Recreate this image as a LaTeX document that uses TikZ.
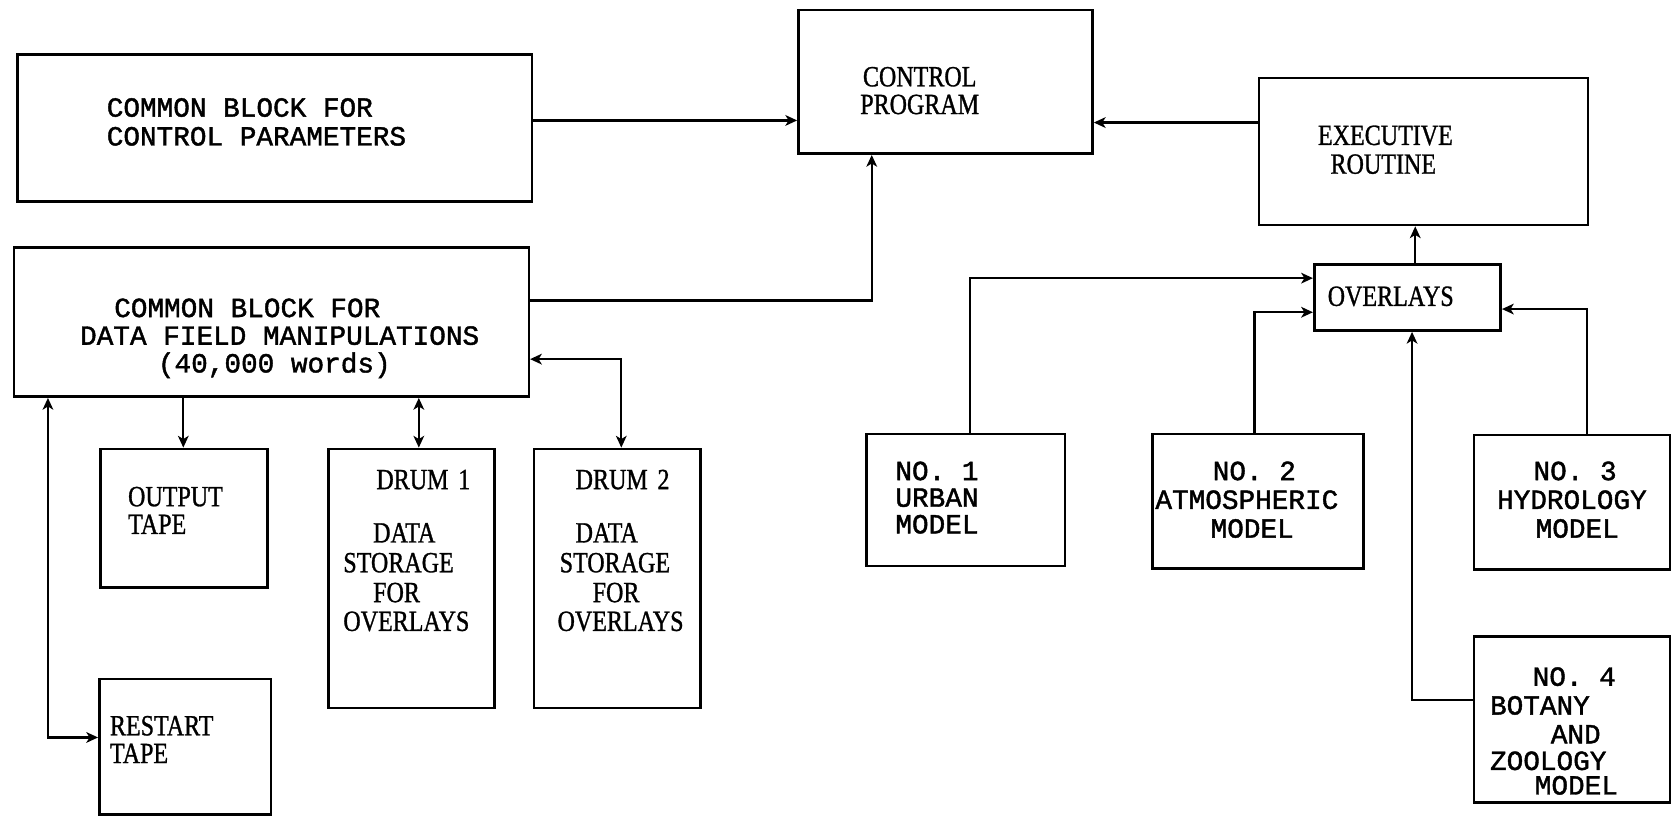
\documentclass[tikz,border=0pt]{standalone}
\usepackage{fontspec}
\setmainfont{Liberation Serif}[FakeStretch=0.82,FakeBold=1]
\newfontfamily\tw{Liberation Mono}[FakeBold=1.5]
\usetikzlibrary{arrows.meta}
\begin{document}
\begin{tikzpicture}[x=1pt,y=1pt,
  box/.style={draw, line width=2.4pt, inner sep=0pt, anchor=north west},
  tm/.style={font=\tw\fontsize{26}{27}\selectfont, inner sep=0pt, text height=15pt, text depth=0pt},
  ts/.style={font=\fontsize{27.5}{28}\selectfont, inner sep=0pt, text height=18pt, text depth=0pt},
  arr/.style={line width=2.2pt, -{Stealth[length=11pt,width=10pt,inset=3pt]}},
  arrb/.style={line width=2.2pt, {Stealth[length=11pt,width=10pt,inset=3pt]}-{Stealth[length=11pt,width=10pt,inset=3pt]}},
  ln/.style={line width=2.2pt}]
\useasboundingbox (0,0) rectangle (1568,-766);
% boxes
\node[box, minimum width=483pt, minimum height=138pt] (cbcp) at (15,-50) {};
\node[box, minimum width=483pt, minimum height=140pt] (cbdf) at (12,-231) {};
\node[box, minimum width=276pt, minimum height=135pt] (cp) at (748,-8) {};
\node[box, minimum width=309pt, minimum height=138pt] (er) at (1180,-72) {};
\node[box, minimum width=175pt, minimum height=62pt] (ov) at (1232,-247) {};
\node[box, minimum width=157pt, minimum height=130pt] (ot) at (93,-420) {};
\node[box, minimum width=156pt, minimum height=243pt] (d1) at (307,-420) {};
\node[box, minimum width=156pt, minimum height=243pt] (d2) at (500,-420) {};
\node[box, minimum width=161pt, minimum height=127pt] (rt) at (92,-636) {};
\node[box, minimum width=186pt, minimum height=124pt] (m1) at (812,-406) {};
\node[box, minimum width=198pt, minimum height=126pt] (m2) at (1080,-406) {};
\node[box, minimum width=184pt, minimum height=126pt] (m3) at (1382,-407) {};
\node[box, minimum width=184pt, minimum height=156pt] (m4) at (1382,-596) {};
% texts
\node[tm, anchor=west] (t1) at (100,-102) {COMMON BLOCK FOR};
\node[tm, anchor=west] (t2) at (100,-129) {CONTROL PARAMETERS};
\node[tm, anchor=west] (t3) at (107,-290) {COMMON BLOCK FOR};
\node[tm, anchor=west] (t4) at (75,-316) {DATA FIELD MANIPULATIONS};
\node[tm, anchor=west] (t5) at (148,-342) {(40,000 words)};
\node[ts] (t6) at (863,-72) {CONTROL};
\node[ts] (t7) at (863,-98) {PROGRAM};
\node[ts] (t8) at (1300,-127) {EXECUTIVE};
\node[ts] (t9) at (1298,-154) {ROUTINE};
\node[ts] (t10) at (1305,-278) {OVERLAYS};
\node[ts, anchor=west] (t11) at (120,-466) {OUTPUT};
\node[ts, anchor=west] (t12) at (120,-492) {TAPE};
\node[ts, anchor=west] (t13) at (353,-450) {DRUM\,\,1};
\node[ts, anchor=west] (t14) at (350,-500) {DATA};
\node[ts, anchor=west] (t15) at (322,-528) {STORAGE};
\node[ts, anchor=west] (t16) at (350,-556) {FOR};
\node[ts, anchor=west] (t17) at (322,-583) {OVERLAYS};
\node[ts, anchor=west] (t18) at (540,-450) {DRUM\,\,2};
\node[ts, anchor=west] (t19) at (540,-500) {DATA};
\node[ts, anchor=west] (t20) at (525,-528) {STORAGE};
\node[ts, anchor=west] (t21) at (556,-556) {FOR};
\node[ts, anchor=west] (t22) at (523,-583) {OVERLAYS};
\node[ts, anchor=west] (t23) at (103,-681) {RESTART};
\node[ts, anchor=west] (t24) at (103,-707) {TAPE};
\node[tm, anchor=west] (t25) at (840,-443) {NO. 1};
\node[tm, anchor=west] (t26) at (840,-468) {URBAN};
\node[tm, anchor=west] (t27) at (840,-493) {MODEL};
\node[tm] (t28) at (1177,-443) {NO. 2};
\node[tm] (t29) at (1170,-470) {ATMOSPHERIC};
\node[tm] (t30) at (1175,-497) {MODEL};
\node[tm] (t31) at (1478,-443) {NO. 3};
\node[tm] (t32) at (1475,-470) {HYDROLOGY};
\node[tm] (t33) at (1480,-497) {MODEL};
\node[tm, anchor=west] (t34) at (1438,-636) {NO. 4};
\node[tm, anchor=west] (t35) at (1398,-663) {BOTANY};
\node[tm, anchor=west] (t36) at (1455,-690) {AND};
\node[tm, anchor=west] (t37) at (1398,-715) {ZOOLOGY};
\node[tm, anchor=west] (t38) at (1440,-738) {MODEL};
% helper coordinates
\coordinate (k0) at (0,-113);
\coordinate (k1) at (818,-282);
\coordinate (k2) at (0,-115);
\coordinate (k3) at (1328,0);
\coordinate (k4) at (910,-261);
\coordinate (k5) at (1177,-293);
\coordinate (k6) at (1489,-290);
\coordinate (k7) at (1325,-657);
\coordinate (k8) at (45,-692);
\coordinate (k9) at (172,0);
\coordinate (k10) at (393,0);
\coordinate (k11) at (583,-337);
% connectors
\draw[arr] (cbcp.east|-k0) -- (cp.west|-k0);
\draw[arr] (cbdf.east|-k1) -| (cp.south-|k1);
\draw[arr] (er.west|-k2) -- (cp.east|-k2);
\draw[arr] (ov.north-|k3) -- (er.south-|k3);
\draw[arr] (m1.north-|k4) |- (ov.west|-k4);
\draw[arr] (m2.north-|k5) |- (ov.west|-k5);
\draw[arr] (m3.north-|k6) |- (ov.east|-k6);
\draw[arr] (m4.west|-k7) -| (ov.south-|k7);
\draw[arrb] (cbdf.south-|k8) |- (rt.west|-k8);
\draw[arr] (cbdf.south-|k9) -- (ot.north-|k9);
\draw[arrb] (cbdf.south-|k10) -- (d1.north-|k10);
\draw[arrb] (cbdf.east|-k11) -| (d2.north-|k11);
\end{tikzpicture}
\end{document}
